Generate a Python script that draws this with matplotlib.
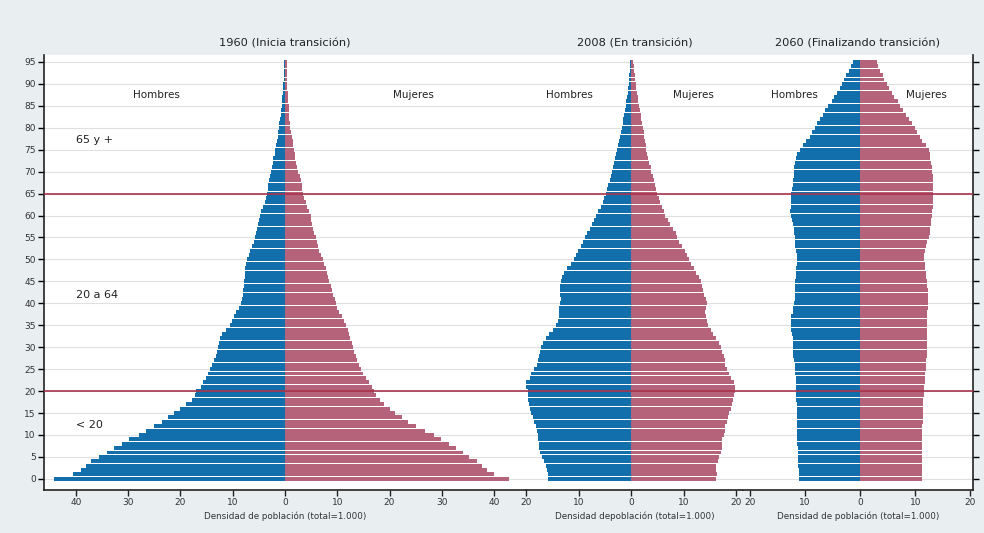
import matplotlib
matplotlib.use("Agg")
import matplotlib.pyplot as plt

# Ages 0..95 (single years)
ages = list(range(0, 96))

# 1960 - density per 1000
men_1960 = [44.1, 40.6, 39.0, 38.0, 37.1, 35.5, 34.0, 32.7, 31.2, 29.8,
            28.0, 26.5, 25.0, 23.6, 22.3, 21.2, 20.0, 18.9, 17.7, 17.3,
            17.0, 16.1, 15.7, 15.2, 14.8, 14.4, 14.0, 13.6, 13.2, 13.0,
            12.9, 12.7, 12.4, 12.1, 11.3, 10.6, 10.1, 9.7, 9.3, 8.8,
            8.5, 8.3, 8.1, 8.0, 7.8, 7.8, 7.7, 7.6, 7.6, 7.4,
            7.2, 6.8, 6.6, 6.4, 6.0, 5.8, 5.6, 5.4, 5.2, 5.0,
            4.7, 4.5, 4.3, 3.9, 3.6, 3.5, 3.3, 3.2, 3.0, 2.8,
            2.6, 2.5, 2.3, 2.2, 2.0, 1.9, 1.7, 1.6, 1.4, 1.3,
            1.15, 1.05, 0.9, 0.8, 0.7, 0.6, 0.55, 0.5, 0.4, 0.35,
            0.3, 0.28, 0.25, 0.22, 0.2, 0.18]
women_1960 = [42.8, 40.0, 38.6, 37.6, 36.8, 35.2, 34.0, 32.8, 31.3, 29.9,
              28.5, 26.8, 25.0, 23.6, 22.4, 21.0, 20.0, 18.9, 18.2, 17.5,
              17.0, 16.6, 16.1, 15.5, 15.0, 14.6, 14.1, 13.8, 13.5, 13.2,
              13.0, 12.8, 12.5, 12.3, 12.1, 11.7, 11.3, 10.9, 10.4, 10.0,
              9.7, 9.5, 9.2, 9.0, 8.8, 8.5, 8.2, 8.0, 7.8, 7.5,
              7.3, 6.9, 6.6, 6.4, 6.1, 5.9, 5.6, 5.3, 5.1, 4.9,
              4.9, 4.6, 4.3, 4.0, 3.7, 3.5, 3.3, 3.2, 3.0, 2.8,
              2.5, 2.3, 2.2, 2.0, 1.9, 1.8, 1.6, 1.5, 1.3, 1.2,
              1.05, 0.95, 0.85, 0.8, 0.75, 0.7, 0.65, 0.58, 0.52, 0.47,
              0.44, 0.42, 0.4, 0.36, 0.32, 0.3]

# 2008
men_2008 = [15.9, 15.9, 16.0, 16.2, 16.5, 16.9, 17.3, 17.5, 17.6, 17.7,
            17.8, 17.9, 18.1, 18.5, 18.7, 19.0, 19.2, 19.4, 19.6, 19.7,
            19.6, 20.1, 20.3, 19.2, 19.0, 18.5, 17.9, 17.7, 17.5, 17.3,
            17.2, 16.7, 16.2, 15.6, 14.9, 14.3, 14.0, 13.8, 13.7, 13.7,
            13.5, 13.3, 13.5, 13.5, 13.5, 13.3, 13.1, 12.7, 12.1, 11.4,
            10.8, 10.4, 10.1, 9.6, 9.2, 8.7, 8.3, 7.9, 7.4, 7.1,
            6.6, 6.2, 5.8, 5.4, 5.1, 4.8, 4.6, 4.4, 4.0, 3.8,
            3.6, 3.4, 3.2, 3.1, 2.9, 2.6, 2.4, 2.3, 2.1, 1.9,
            1.8, 1.6, 1.5, 1.3, 1.15, 1.0, 0.9, 0.8, 0.65, 0.5,
            0.45, 0.35, 0.3, 0.25, 0.2, 0.15]
women_2008 = [16.2, 16.3, 16.2, 16.2, 16.5, 16.8, 17.1, 17.3, 17.4, 17.4,
              17.6, 17.8, 17.9, 18.2, 18.5, 18.7, 19.0, 19.2, 19.4, 19.6,
              19.7, 19.7, 19.5, 19.0, 18.7, 18.2, 17.9, 17.8, 17.6, 17.4,
              17.1, 16.7, 16.2, 15.6, 15.2, 14.7, 14.4, 14.2, 14.1, 14.2,
              14.4, 14.2, 13.9, 13.6, 13.5, 13.3, 12.9, 12.4, 12.0, 11.5,
              11.0, 10.7, 10.3, 9.7, 9.2, 8.8, 8.5, 7.9, 7.5, 7.1,
              6.5, 6.2, 5.9, 5.6, 5.3, 5.0, 4.7, 4.5, 4.3, 4.1,
              3.8, 3.7, 3.5, 3.3, 3.1, 2.9, 2.8, 2.7, 2.5, 2.4,
              2.2, 2.1, 1.9, 1.8, 1.7, 1.5, 1.4, 1.3, 1.15, 1.0,
              0.9, 0.8, 0.7, 0.6, 0.5, 0.4]

# 2060
men_2060 = [11.1, 11.2, 11.2, 11.3, 11.3, 11.3, 11.3, 11.3, 11.4, 11.4,
            11.4, 11.4, 11.4, 11.5, 11.5, 11.5, 11.5, 11.5, 11.6, 11.6,
            11.6, 11.7, 11.7, 11.7, 11.8, 11.8, 11.9, 12.0, 12.2, 12.2,
            12.2, 12.2, 12.3, 12.4, 12.5, 12.5, 12.6, 12.5, 12.3, 12.2,
            12.0, 11.9, 11.9, 11.9, 11.9, 11.8, 11.7, 11.6, 11.6, 11.5,
            11.4, 11.4, 11.7, 11.8, 11.9, 11.9, 12.0, 12.1, 12.2, 12.4,
            12.6, 12.7, 12.5, 12.5, 12.5, 12.6, 12.4, 12.2, 12.2, 12.1,
            12.1, 12.0, 11.9, 11.7, 11.5, 11.0, 10.4, 9.8, 9.2, 8.7,
            8.3, 7.8, 7.3, 6.8, 6.4, 5.8, 5.2, 4.8, 4.2, 3.7,
            3.3, 2.9, 2.5, 2.1, 1.7, 1.3]
women_2060 = [11.2, 11.2, 11.3, 11.3, 11.3, 11.3, 11.3, 11.3, 11.3, 11.3,
              11.3, 11.3, 11.3, 11.4, 11.4, 11.4, 11.4, 11.5, 11.5, 11.6,
              11.6, 11.6, 11.7, 11.7, 11.8, 11.9, 11.9, 12.0, 12.1, 12.1,
              12.2, 12.2, 12.2, 12.2, 12.1, 12.1, 12.1, 12.2, 12.2, 12.3,
              12.4, 12.4, 12.4, 12.3, 12.2, 12.1, 12.0, 11.9, 11.8, 11.7,
              11.6, 11.6, 11.8, 11.9, 12.2, 12.5, 12.6, 12.7, 12.8, 12.9,
              13.0, 13.1, 13.2, 13.2, 13.3, 13.3, 13.3, 13.2, 13.2, 13.2,
              13.1, 13.0, 12.9, 12.7, 12.6, 12.5, 11.9, 11.3, 10.9, 10.4,
              10.0, 9.4, 8.8, 8.3, 7.8, 7.3, 6.9, 6.2, 5.7, 5.2,
              4.8, 4.4, 4.1, 3.6, 3.3, 3.1]

titles = ["1960 (Inicia transición)", "2008 (En transición)", "2060 (Finalizando transición)"]
xlabels = ["Densidad de población (total=1.000)",
           "Densidad depoblación (total=1.000)",
           "Densidad de población (total=1.000)"]
xticks_list = [[-40, -30, -20, -10, 0, 10, 20, 30, 40],
               [-20, -10, 0, 10, 20],
               [-20, -10, 0, 10, 20]]
xlims = [(-46.1, 46.1), (-20.0, 21.3), (-21.3, 20.5)]
label_x = [24.5, 11.8, 12.0]
groups = ["65 y +", "20 a 64", "< 20"]
group_y = [77.2, 42.0, 12.3]

blue = "#136fab"
pink = "#b4637a"
red = "#a8334c"
bg = "#e9eef1"

men = [men_1960, men_2008, men_2060]
women = [women_1960, women_2008, women_2060]

fig = plt.figure(figsize=(9.84, 5.33), dpi=100, facecolor=bg)
gs = fig.add_gridspec(1, 3, width_ratios=[482, 217, 230], wspace=0,
                      left=0.0447, right=0.9888, top=0.897, bottom=0.081)

axes = []
for i in range(3):
    ax = fig.add_subplot(gs[0, i])
    axes.append(ax)
    ax.set_facecolor("white")
    ax.set_xlim(*xlims[i])
    ax.set_ylim(-2.5, 96.6)

    # light horizontal grid every 5 years
    for y in range(0, 100, 5):
        ax.axhline(y, color="#e0e0e0", lw=0.8, zorder=0)

    ax.barh(ages, [-v for v in men[i]], height=0.9, color=blue, lw=0, zorder=2)
    ax.barh(ages, women[i], height=0.9, color=pink, lw=0, zorder=2)

    # age group limits
    ax.axhline(20, color=red, lw=1.2, zorder=3)
    ax.axhline(65, color=red, lw=1.2, zorder=3)

    ax.set_xticks(xticks_list[i])
    ax.set_xticklabels([str(abs(t)) for t in xticks_list[i]], fontsize=6.5, color="#333333")
    ax.set_xlabel(xlabels[i], fontsize=6.3, color="#333333", labelpad=3)
    ax.set_title(titles[i], fontsize=8.2, color="#222222", pad=6)

    ax.text(-label_x[i], 87.5, "Hombres", fontsize=7.5, ha="center", va="center", color="#222222")
    ax.text(label_x[i], 87.5, "Mujeres", fontsize=7.5, ha="center", va="center", color="#222222")

    ax.spines["top"].set_visible(False)
    ax.spines["bottom"].set_color("#222222")
    ax.spines["bottom"].set_linewidth(1.2)
    ax.tick_params(axis="x", length=4, width=1.0, color="#222222", pad=2)

    if i == 0:
        ax.set_yticks(range(0, 100, 5))
        ax.tick_params(axis="y", labelsize=6.5, labelcolor="#333333", length=4, width=1.0, pad=2)
        ax.spines["left"].set_color("#222222")
        ax.spines["left"].set_linewidth(1.2)
    else:
        ax.spines["left"].set_visible(False)
        ax.tick_params(axis="y", left=False, labelleft=False)
    if i == 2:
        ax.spines["right"].set_color("#222222")
        ax.spines["right"].set_linewidth(1.2)
        ax.set_yticks(range(0, 100, 5))
        ax.tick_params(axis="y", right=True, labelright=False, length=4, width=1.0)
    else:
        ax.spines["right"].set_visible(False)

for lbl, y in zip(groups, group_y):
    axes[0].text(-40, y, lbl, fontsize=8, ha="left", va="center", color="#222222")

fig.savefig("out.png", dpi=100, facecolor=bg)
